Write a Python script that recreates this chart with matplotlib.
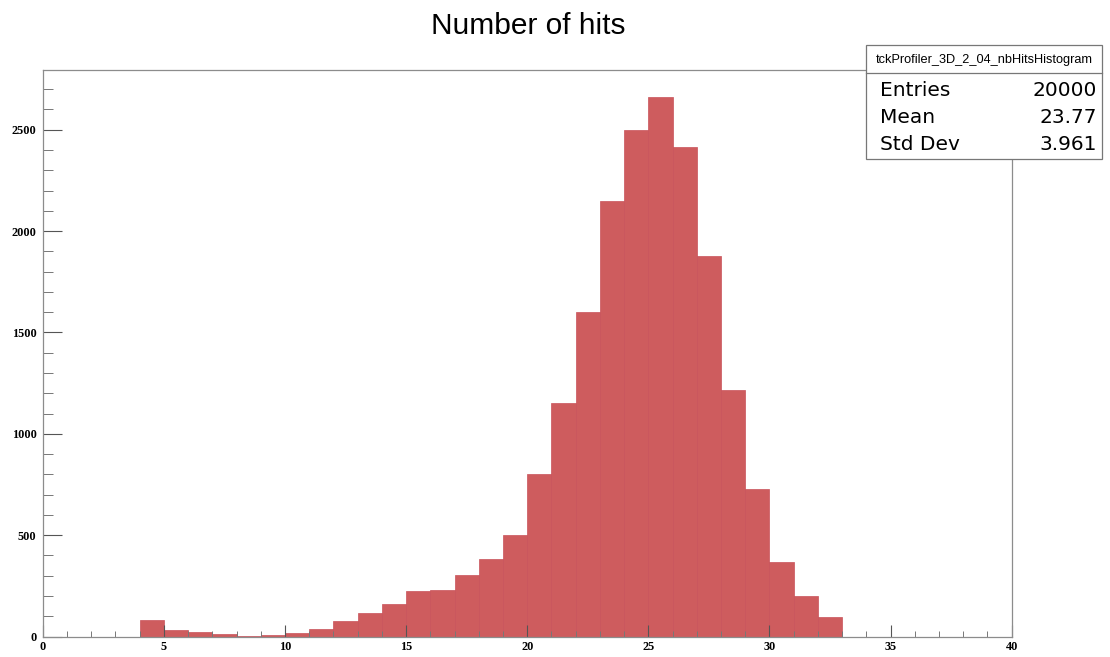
import matplotlib
matplotlib.use("Agg")
import matplotlib.pyplot as plt
from matplotlib.patches import Rectangle
from matplotlib.lines import Line2D
from matplotlib.ticker import MultipleLocator
import numpy as np

# Contenu des bins (largeur 1, de 4 a 33)
bin_low = list(range(4, 33))
counts = [81, 31, 22, 14, 3, 6, 17, 37, 76, 117, 159, 226, 229, 305, 382,
          501, 802, 1150, 1601, 2148, 2499, 2660, 2416, 1876, 1216, 726,
          369, 198, 95]

hist_name = "tckProfiler_3D_2_04_nbHitsHistogram"
stats_labels = ["Entries", "Mean", "Std Dev"]
stats_values = ["20000", "23.77", "3.961"]
titre = "Number of hits"

W, H = 1110, 657
fig = plt.figure(figsize=(W / 100, H / 100), dpi=100)

# cadre en pixels -> coordonnees figure
x0, x1, y_top, y_bot = 42.7, 1011.7, 70.3, 636.5
ax = fig.add_axes([x0 / W, 1 - y_bot / H, (x1 - x0) / W, (y_bot - y_top) / H])

ax.bar(bin_low, counts, width=1.0, align='edge', color='#ce5c5e',
       edgecolor='#c8525a', linewidth=0.5)

ax.set_xlim(0, 40)
ax.set_ylim(0, 1.05 * max(counts))

ax.xaxis.set_major_locator(MultipleLocator(5))
ax.xaxis.set_minor_locator(MultipleLocator(1))
ax.yaxis.set_major_locator(MultipleLocator(500))
ax.yaxis.set_minor_locator(MultipleLocator(100))

for s in ax.spines.values():
    s.set_color('#8c8c8c')
    s.set_linewidth(0.9)

ax.tick_params(axis='x', which='major', direction='in', length=8.4, width=0.8,
               color='#555555', pad=3.5)
ax.tick_params(axis='x', which='minor', direction='in', length=4.1, width=0.7,
               color='#777777')
ax.tick_params(axis='y', which='major', direction='in', length=13.7, width=0.8,
               color='#555555', pad=4.5)
ax.tick_params(axis='y', which='minor', direction='in', length=7.2, width=0.7,
               color='#777777')

for lab in ax.get_xticklabels() + ax.get_yticklabels():
    lab.set_fontfamily('Liberation Serif')
    lab.set_fontweight('bold')
    lab.set_fontsize(8.8)

# titre
fig.text(528 / W, 1 - 34.3 / H, titre, ha='center', va='baseline',
         fontsize=21.5, family='Liberation Sans')

# boite de statistiques
bx0, bx1, by0, by1, bsep = 866, 1102, 45, 159, 73.3
fig.add_artist(Rectangle((bx0 / W, 1 - by1 / H), (bx1 - bx0) / W, (by1 - by0) / H,
                         transform=fig.transFigure, facecolor='white',
                         edgecolor='#777777', linewidth=0.9, zorder=5))
fig.add_artist(Line2D([bx0 / W, bx1 / W], [1 - bsep / H, 1 - bsep / H],
                      transform=fig.transFigure, color='#777777', linewidth=0.9,
                      zorder=6))
fig.text((bx0 + bx1) / 2 / W, 1 - 59.5 / H, hist_name, ha='center', va='center',
         fontsize=9.2, family='Liberation Sans', zorder=7)
rows_y = [90, 117.5, 145]
for lab, val, yy in zip(stats_labels, stats_values, rows_y):
    fig.text(880 / W, 1 - yy / H, lab, ha='left', va='center', fontsize=14.5,
             family='DejaVu Sans', zorder=7)
    fig.text(1097 / W, 1 - yy / H, val, ha='right', va='center', fontsize=14.5,
             family='DejaVu Sans', zorder=7)

fig.savefig("out.png", dpi=100)
